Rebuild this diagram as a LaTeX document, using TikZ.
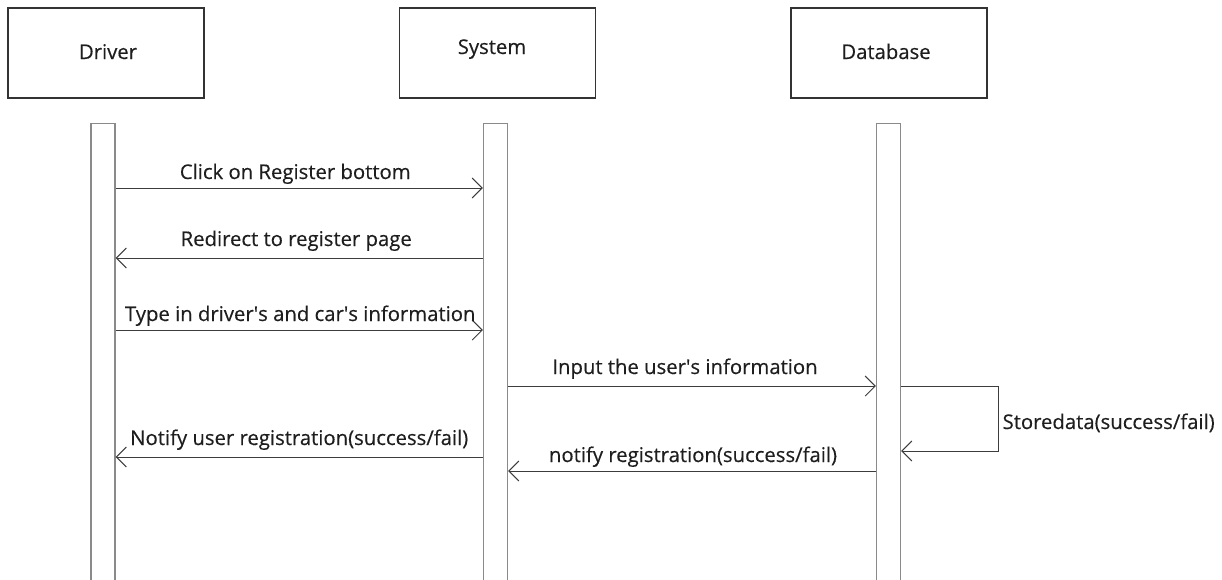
\documentclass[tikz,border=0pt]{standalone}
\usepackage{fontspec}
\setmainfont{Open Sans}[FakeBold=0.35]
\usetikzlibrary{arrows.meta}
\definecolor{txt}{HTML}{1E1E1E}
\definecolor{boxline}{HTML}{333333}
\definecolor{barline}{HTML}{8A8A8A}
\definecolor{msgline}{HTML}{3C3C3C}
\begin{document}
\begin{tikzpicture}[x=1pt,y=-1pt,
  every node/.style={font=\fontsize{20.3}{24}\selectfont, text=txt},
  actor/.style={draw=boxline, line width=1.3pt, minimum width=196pt,
    minimum height=90pt, inner sep=0pt},
  actorname/.style={anchor=base, inner sep=0pt},
  lifebar/.style={draw=barline, fill=white, line width=1.2pt,
    minimum width=24pt, minimum height=460pt, inner sep=0pt, anchor=north},
  msg/.style={draw=msgline, line width=1pt,
    -{Straight Barb[length=10pt,width=20pt,line width=1pt]}},
  msglabel/.style={anchor=base, inner sep=0pt}]
  \useasboundingbox (0,0) rectangle (1222,579);

  % participants
  \node[actor] (drv) at (106,53) {};
  \node[actor] (sys) at (497.5,53) {};
  \node[actor] (db)  at (889,53) {};
  \node[actorname] (drvname) at (108,59) {Driver};
  \node[actorname] (sysname) at (492,54) {System};
  \node[actorname] (dbname)  at (886,59) {Database};

  % activation bars
  \node[lifebar] (drvbar) at (103,123) {};
  \node[lifebar] (sysbar) at (495.5,123) {};
  \node[lifebar] (dbbar)  at (888.5,123) {};

  % message levels
  \coordinate (m1) at (0,188);
  \coordinate (m2) at (0,258);
  \coordinate (m3) at (0,330);
  \coordinate (m4) at (0,386);
  \coordinate (m5) at (0,471);
  \coordinate (m6) at (0,457);
  \coordinate (loopend) at (0,451);

  \draw[msg] (drvbar.east |- m1) -- node[msglabel, xshift=-4pt, yshift=9pt] {Click on Register bottom} (sysbar.west |- m1);
  \draw[msg] (sysbar.west |- m2) -- node[msglabel, xshift=-3pt, yshift=12pt] {Redirect to register page} (drvbar.east |- m2);
  \draw[msg] (drvbar.east |- m3) -- node[msglabel, xshift=1pt, yshift=9pt] {Type in driver\textquotesingle s and car\textquotesingle s information} (sysbar.west |- m3);
  \draw[msg] (sysbar.east |- m4) -- node[msglabel, xshift=-7pt, yshift=12pt] {Input the user\textquotesingle s information} (dbbar.west |- m4);
  \draw[msg] (dbbar.east |- m4) -- ++(97,0) |- node[pos=0.25, anchor=base west, inner sep=0pt, xshift=4pt, yshift=-10.5pt] {Storedata(success/fail)} (dbbar.east |- loopend);
  \draw[msg] (dbbar.west |- m5) -- node[msglabel, xshift=1pt, yshift=9pt] {notify registration(success/fail)} (sysbar.east |- m5);
  \draw[msg] (sysbar.west |- m6) -- node[msglabel, xshift=0pt, yshift=12pt] {Notify user registration(success/fail)} (drvbar.east |- m6);
\end{tikzpicture}
\end{document}
